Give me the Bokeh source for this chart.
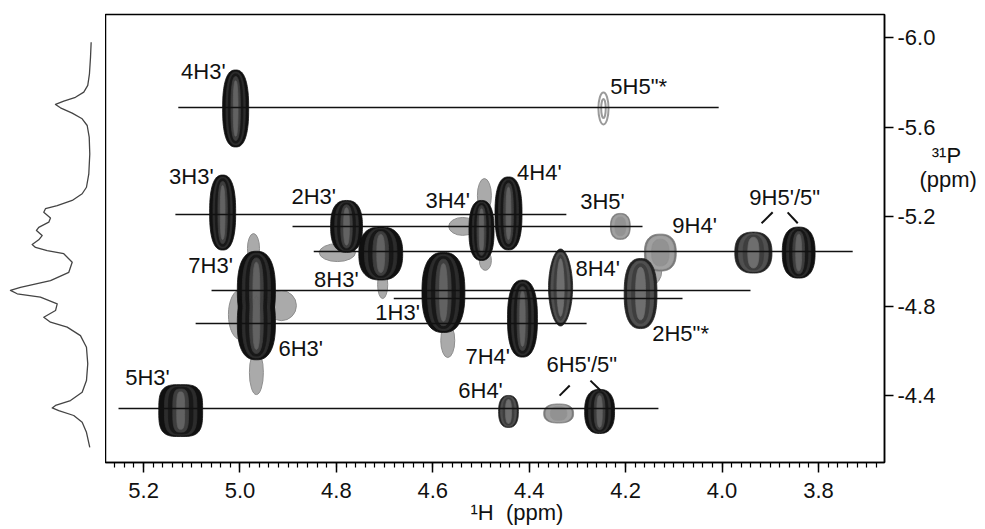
import numpy as np
from bokeh.plotting import figure
from bokeh.models import (Range1d, SingleIntervalTicker, FixedTicker, NumeralTickFormatter,
                          LinearAxis, Title)
from bokeh.layouts import row
from bokeh.embed import file_html
from bokeh.resources import INLINE
from bokeh.core.properties import value

FONT = "Liberation Sans"

# ---------------- data ----------------
peak_names = ["4H3'", "3H3'", "2H3'", "8H3'", "7H3'", "6H3'", "3H4'", "4H4'", "3H5'", "9H4'",
              "9H5'", "9H5\"", "1H3'", "8H4'", "7H4'", "2H5\"", "5H3'", "6H4'", "6H5'", "6H5\"", "5H5\""]
peak_h1 = [5.009, 5.036, 4.779, 4.708, 4.966, 4.966, 4.499, 4.443, 4.211, 4.128,
           3.935, 3.841, 4.578, 4.335, 4.414, 4.169, 5.123, 4.443, 4.339, 4.254, 4.246]
peak_p31 = [-5.683, -5.218, -5.156, -5.035, -4.870, -4.725, -5.138, -5.214, -5.156, -5.039,
            -5.039, -5.039, -4.861, -4.883, -4.744, -4.856, -4.333, -4.329, -4.320, -4.329, -5.683]
peak_dh = [0.054, 0.054, 0.066, 0.091, 0.079, 0.079, 0.052, 0.056, 0.041, 0.066,
           0.077, 0.068, 0.089, 0.050, 0.062, 0.068, 0.091, 0.041, 0.062, 0.062, 0.021]
peak_dp = [0.344, 0.335, 0.232, 0.237, 0.350, 0.330, 0.268, 0.326, 0.116, 0.165,
           0.183, 0.228, 0.358, 0.344, 0.344, 0.313, 0.232, 0.143, 0.085, 0.197, 0.143]
peak_class = ["dark", "dark", "dark", "dark", "dark", "dark", "dark", "dark", "light", "light",
              "mid", "dark", "dark", "mid", "dark", "mid", "dark", "mid", "light", "dark", "open"]

wing_h1 = [4.493, 4.538, 4.491, 4.798, 4.704, 4.972, 4.966, 4.914, 4.999, 4.569, 4.148]
wing_p31 = [-5.294, -5.156, -5.004, -5.039, -4.896, -5.057, -4.503, -4.802, -4.762, -4.646, -4.959]
wing_dh = [0.029, 0.058, 0.025, 0.075, 0.021, 0.025, 0.029, 0.062, 0.050, 0.029, 0.046]
wing_dp = [0.152, 0.080, 0.089, 0.080, 0.125, 0.134, 0.197, 0.134, 0.223, 0.152, 0.134]

line_p31 = [-5.687, -5.209, -5.156, -5.044, -4.870, -4.834, -4.722, -4.342]
line_h_start = [5.128, 5.134, 4.891, 4.847, 5.059, 4.681, 5.092, 5.252]
line_h_end = [4.007, 4.323, 4.165, 3.729, 3.941, 4.082, 4.281, 4.132]

label_text = ["4H3'", "5H5\"*", "3H3'", "2H3'", "3H4'", "4H4'", "3H5'", "9H4'", "9H5'/5\"",
              "7H3'", "8H3'", "1H3'", "8H4'", "6H3'", "7H4'", "6H5'/5\"", "6H4'", "2H5\"*", "5H3'"]
label_h1 = [5.076, 4.173, 5.101, 4.847, 4.569, 4.379, 4.248, 4.057, 3.870,
            5.061, 4.800, 4.673, 4.258, 4.874, 4.486, 4.291, 4.501, 4.086, 5.192]
label_p31 = [-5.848, -5.781, -5.379, -5.290, -5.272, -5.397, -5.267, -5.160, -5.285,
             -4.981, -4.919, -4.771, -4.968, -4.610, -4.575, -4.539, -4.423, -4.677, -4.481]

ptr_h0 = [3.918, 3.864, 4.337, 4.273]
ptr_p0 = [-5.170, -5.219, -4.400, -4.467]
ptr_h1 = [3.895, 3.843, 4.316, 4.252]
ptr_p1 = [-5.219, -5.170, -4.445, -4.423]

proj_p31 = [-5.979, -5.912, -5.838, -5.786, -5.756, -5.733, -5.716, -5.701, -5.686, -5.662,
            -5.637, -5.607, -5.555, -5.480, -5.391, -5.331, -5.302, -5.272, -5.249, -5.235,
            -5.219, -5.194, -5.175, -5.152, -5.138, -5.115, -5.096, -5.075, -5.062, -5.048,
            -5.034, -4.996, -4.951, -4.914, -4.884, -4.870, -4.855, -4.840, -4.810, -4.780,
            -4.750, -4.728, -4.706, -4.668, -4.616, -4.542, -4.467, -4.415, -4.378, -4.356,
            -4.345, -4.333, -4.311, -4.281, -4.236, -4.169]
proj_int = [0.004, 0.012, 0.025, 0.046, 0.095, 0.198, 0.342, 0.444, 0.383, 0.238,
            0.115, 0.053, 0.028, 0.021, 0.033, 0.062, 0.115, 0.238, 0.423, 0.568,
            0.589, 0.506, 0.527, 0.651, 0.679, 0.609, 0.651, 0.732, 0.691, 0.547,
            0.342, 0.238, 0.280, 0.506, 0.877, 1.000, 0.917, 0.630, 0.423, 0.444,
            0.589, 0.506, 0.300, 0.136, 0.062, 0.046, 0.062, 0.115, 0.259, 0.444,
            0.485, 0.404, 0.219, 0.115, 0.062, 0.021]

y_ticks = [-6.0, -5.6, -5.2, -4.8, -4.4]
p_title_pos = [-5.473, -5.366]
p_title_text = ["\u00a0\u00a0\u00b3\u00b9P", "(ppm)"]

# ---------------- main 2D plot ----------------
yr = Range1d(-4.101, -6.103)
p = figure(width=880, height=529, x_range=Range1d(5.279, 3.663), y_range=yr,
           output_backend="svg", toolbar_location=None, y_axis_location="right",
           min_border_left=0, min_border_right=101, min_border_top=14, min_border_bottom=67)
p.grid.visible = False
p.outline_line_color = "black"
p.outline_line_width = 1.5
p.background_fill_color = "white"
p.border_fill_color = "white"

xa = p.xaxis[0]
xa.ticker = SingleIntervalTicker(interval=0.2, num_minor_ticks=10)
xa.formatter = NumeralTickFormatter(format="0.0")
xa.major_tick_out = 10
xa.major_tick_in = 0
xa.minor_tick_out = 5
xa.minor_tick_in = 0
xa.axis_line_width = 1.5
xa.major_tick_line_width = 1.5
xa.minor_tick_line_width = 1.2
xa.major_label_standoff = 10
xa.major_label_text_font = FONT
xa.major_label_text_font_size = "22px"
xa.major_label_text_color = "#111111"

ya = p.yaxis[0]
ya.ticker = FixedTicker(ticks=y_ticks, minor_ticks=[])
ya.formatter = NumeralTickFormatter(format="0.0")
ya.major_tick_out = 9
ya.major_tick_in = 0
ya.minor_tick_out = 0
ya.minor_tick_in = 0
ya.axis_line_width = 1.5
ya.major_tick_line_width = 1.5
ya.major_label_standoff = 4
ya.major_label_text_font = FONT
ya.major_label_text_font_size = "22px"
ya.major_label_text_color = "#111111"

# 31P axis title: two horizontal lines, carried by a tick-less second right axis
ya2 = LinearAxis(ticker=FixedTicker(ticks=p_title_pos, minor_ticks=[]),
                 major_label_overrides=dict(zip(p_title_pos, p_title_text)),
                 axis_line_color=None, major_tick_line_color=None, minor_tick_line_color=None,
                 major_tick_out=0, major_tick_in=0, minor_tick_out=0, minor_tick_in=0,
                 major_label_standoff=-19, major_label_text_font=FONT,
                 major_label_text_font_size="22px", major_label_text_color="#111111")
p.add_layout(ya2, "right")

p.ellipse(x=wing_h1, y=wing_p31, width=wing_dh, height=wing_dp,
          fill_color="#aaaaaa", line_color="#8e8e8e", line_width=1)

t = np.linspace(0, 2 * np.pi, 97)
ct, st = np.cos(t), np.sin(t)
squareness = {"5H3'": 3.4, "8H4'": 1.9}


def outline(cx, cy, w, h, n):
    xs = cx + 0.5 * w * np.sign(ct) * np.abs(ct) ** (2.0 / n)
    ys = cy + 0.5 * h * np.sign(st) * np.abs(st) ** (2.0 / n)
    return xs.tolist(), ys.tolist()


levels = {
    "light": [(1.00, 1.00, "#7a7a7a"), (0.86, 0.90, "#a0a0a0"), (0.55, 0.72, "#929292")],
    "mid": [(1.00, 1.00, "#232323"), (0.80, 0.93, "#505050"), (0.55, 0.85, "#3e3e3e"),
            (0.30, 0.75, "#6e6e6e")],
    "dark": [(1.00, 1.00, "#101010"), (0.74, 0.95, "#2c2c2c"), (0.56, 0.90, "#181818"),
             (0.36, 0.83, "#3e3e3e"), (0.18, 0.72, "#626262")],
}

for cls in ["light", "mid", "dark"]:
    idx = [i for i, c in enumerate(peak_class) if c == cls]
    for sw, sh, col in levels[cls]:
        xs, ys = [], []
        for i in idx:
            n = squareness.get(peak_names[i], 2.5)
            bx, by = outline(peak_h1[i], peak_p31[i], peak_dh[i] * sw, peak_dp[i] * sh, n)
            xs.append(bx)
            ys.append(by)
        p.patches(xs=xs, ys=ys, fill_color=col, line_color=col, line_width=0.8)

idx = [i for i, c in enumerate(peak_class) if c == "open"]
for sw, sh in [(1.0, 1.0), (0.45, 0.6)]:
    p.ellipse(x=[peak_h1[i] for i in idx], y=[peak_p31[i] for i in idx],
              width=[peak_dh[i] * sw for i in idx], height=[peak_dp[i] * sh for i in idx],
              fill_color=None, line_color="#9a9a9a", line_width=2)

p.segment(x0=line_h_start, y0=line_p31, x1=line_h_end, y1=line_p31,
          line_color="#111111", line_width=1.5)
p.segment(x0=ptr_h0, y0=ptr_p0, x1=ptr_h1, y1=ptr_p1, line_color="#111111", line_width=2)

p.text(x=label_h1, y=label_p31, text=label_text, text_font=value(FONT),
       text_font_size="22px", text_color="#111111", text_align="center",
       text_baseline="middle")

# 1H axis title in the bottom panel
xt = Title(text="\u00b9H\u00a0\u00a0(ppm)", align="left", offset=365, text_font=FONT,
           text_font_size="22px", text_font_style="normal", text_color="#111111",
           standoff=-6)
p.add_layout(xt, "below")

# ---------------- 1D projection ----------------
q = figure(width=105, height=529, x_range=Range1d(1.123, -0.173), y_range=yr,
           output_backend="svg", toolbar_location=None, x_axis_location=None,
           y_axis_location=None, min_border_left=0, min_border_right=0,
           min_border_top=14, min_border_bottom=67)
q.grid.visible = False
q.outline_line_color = None
q.background_fill_color = "white"
q.border_fill_color = "white"
q.line(x=proj_int, y=proj_p31, line_color="#444444", line_width=1.3, line_join="round")

layout = row(q, p)
open("out.html", "w").write(file_html(layout, INLINE))
